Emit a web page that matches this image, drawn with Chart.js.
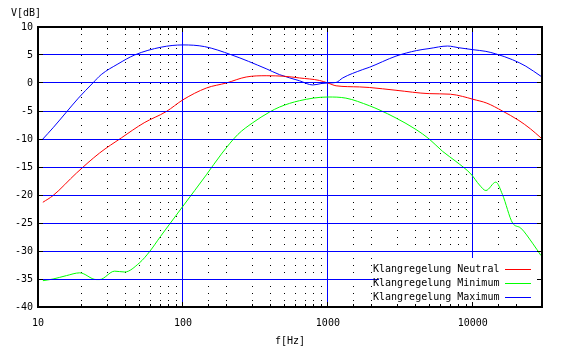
<!DOCTYPE html>
<html>
<head>
<meta charset="utf-8">
<script src="https://cdn.jsdelivr.net/npm/chart.js@4"></script>
<style>
  html, body { margin: 0; padding: 0; background: #fff; }
</style>
</head>
<body>
<canvas id="chart" width="565" height="350"></canvas>
<script>
// Klangregelung frequency response
const seriesNames = ["Klangregelung Neutral", "Klangregelung Minimum", "Klangregelung Maximum"];
const seriesColors = ["#ff0000", "#00ff00", "#0000ff"];

const neutralFreq = [10.8, 12.7, 18.4, 26.6, 37.6, 54, 76.7, 100, 145, 199, 273, 375, 500, 637, 873, 1000, 1140, 1650, 1930, 2950, 5000, 7000, 8500, 10000, 12500, 16000, 20800, 25000, 29500];
const neutralDb = [-21.3, -20.1, -16.1, -12.5, -9.8, -7.1, -5.1, -3.0, -0.9, 0, 1.07, 1.3, 1.2, 0.9, 0.46, 0, -0.5, -0.7, -0.8, -1.3, -1.9, -2.0, -2.4, -2.9, -3.6, -5.0, -6.7, -8.2, -9.8];

const minimumFreq = [10.8, 12.7, 15.7, 19.4, 25.2, 26.6, 33.8, 39.6, 50.2, 58.9, 70, 80.9, 100, 145, 184, 239, 303, 395, 463, 637, 1000, 1330, 1930, 2250, 2950, 4050, 5000, 6180, 7640, 9700, 11100, 12300, 14400, 16000, 18800, 21400, 25800, 29500];
const minimumDb = [-35.3, -35, -34.4, -33.9, -35.1, -35.1, -33.6, -33.75, -32.1, -30.1, -27.4, -25.2, -22, -16.4, -12.7, -9.2, -7.1, -5.2, -4.3, -3.16, -2.5, -2.7, -4.05, -4.77, -6.25, -8.3, -10, -12.2, -14, -16.25, -18.2, -19.2, -17.7, -19.9, -25, -25.9, -28.6, -30.8];

const maximumFreq = [10.8, 12.7, 15.7, 19, 23.9, 27.3, 35.6, 46.4, 70.8, 100, 141, 215, 375, 463, 637, 786, 900, 1000, 1140, 1265, 1740, 1930, 2950, 4100, 5000, 6700, 8000, 10000, 12300, 14400, 18800, 23200, 29500];
const maximumDb = [-10, -8.0, -5.2, -2.7, 0, 1.5, 3.4, 5.0, 6.4, 6.8, 6.5, 5.05, 2.55, 1.5, 0.4, -0.35, -0.1, 0, 0.1, 0.9, 2.4, 2.8, 4.8, 5.8, 6.15, 6.6, 6.3, 5.95, 5.65, 5.2, 4.15, 3.0, 1.2];

const xTickLabels = [10, 100, 1000, 10000];
const yTicks = [-40, -35, -30, -25, -20, -15, -10, -5, 0, 5, 10];

const FONT = "'DejaVu Sans Mono', monospace";
const GRID_BLUE = "#0000ff";

function toPoints(freqs, dbs) {
  return freqs.map((f, i) => ({ x: f, y: dbs[i] }));
}

function isDecade(v) {
  return xTickLabels.includes(v);
}

// same rounding chart.js uses for 1px lines
function crisp(p) {
  return Math.round(p - 0.5) + 0.5;
}

// gnuplot style frame: blue dB grid, inward ticks, thick border, key box, y label
const gnuplotFrame = {
  id: "gnuplotFrame",
  afterDatasetsDraw(chart) {
    const { ctx, chartArea: a, scales } = chart;
    const x = scales.x, y = scales.y;
    ctx.save();
    ctx.setLineDash([]);

    // dB grid lines
    ctx.strokeStyle = GRID_BLUE;
    ctx.lineWidth = 1;
    ctx.beginPath();
    y.ticks.forEach(t => {
      const py = crisp(y.getPixelForValue(t.value));
      ctx.moveTo(a.left, py);
      ctx.lineTo(a.right, py);
    });
    ctx.stroke();

    // key
    ctx.fillStyle = "#fff";
    ctx.fillRect(379, 258, a.right - 379, a.bottom - 258);
    ctx.font = "10px " + FONT;
    ctx.textBaseline = "middle";
    ctx.textAlign = "left";
    chart.data.datasets.forEach((ds, i) => {
      const ty = 269 + i * 14;
      ctx.fillStyle = "#000";
      ctx.fillText(ds.label, 373, ty);
      ctx.strokeStyle = seriesColors[i];
      ctx.lineWidth = 1;
      ctx.beginPath();
      ctx.moveTo(505, ty + 0.5);
      ctx.lineTo(531, ty + 0.5);
      ctx.stroke();
    });

    // inward ticks
    ctx.strokeStyle = "#000";
    ctx.lineWidth = 1;
    ctx.beginPath();
    x.ticks.forEach(t => {
      const px = crisp(x.getPixelForValue(t.value));
      const len = isDecade(t.value) ? 5 : 3;
      ctx.moveTo(px, a.bottom); ctx.lineTo(px, a.bottom - len);
      ctx.moveTo(px, a.top); ctx.lineTo(px, a.top + len);
    });
    y.ticks.forEach(t => {
      const py = crisp(y.getPixelForValue(t.value));
      ctx.moveTo(a.left, py); ctx.lineTo(a.left + 5, py);
      ctx.moveTo(a.right, py); ctx.lineTo(a.right - 5, py);
    });
    ctx.stroke();

    ctx.lineWidth = 2;
    ctx.strokeRect(a.left, a.top, a.right - a.left, a.bottom - a.top);

    ctx.fillStyle = "#000";
    ctx.textAlign = "left";
    ctx.fillText("V[dB]", 11, 13);
    ctx.restore();
  }
};

const ctx = document.getElementById("chart");
const myChart = new Chart(ctx, {
  type: "line",
  data: {
    datasets: [
      { label: seriesNames[0], data: toPoints(neutralFreq, neutralDb), borderColor: seriesColors[0] },
      { label: seriesNames[1], data: toPoints(minimumFreq, minimumDb), borderColor: seriesColors[1] },
      { label: seriesNames[2], data: toPoints(maximumFreq, maximumDb), borderColor: seriesColors[2] }
    ]
  },
  options: {
    responsive: false,
    animation: false,
    devicePixelRatio: 1,
    layout: { padding: { top: 27, right: 23, left: 0, bottom: 0 } },
    elements: {
      line: { borderWidth: 1, fill: false, cubicInterpolationMode: "monotone" },
      point: { radius: 0, hoverRadius: 0 }
    },
    scales: {
      x: {
        type: "logarithmic",
        min: 10,
        max: 30000,
        afterFit: s => { s.height = 43; },
        border: {
          display: false,
          dash: c => (c.tick && isDecade(c.tick.value)) ? [] : [1, 6]
        },
        grid: {
          drawTicks: false,
          lineWidth: 1,
          color: c => (c.tick && isDecade(c.tick.value)) ? GRID_BLUE : "#000"
        },
        ticks: {
          autoSkip: false,
          maxRotation: 0,
          padding: 10,
          color: "#000",
          font: { family: FONT, size: 10 },
          callback: v => isDecade(v) ? String(v) : ""
        },
        title: {
          display: true,
          text: "f[Hz]",
          color: "#000",
          font: { family: FONT, size: 10 },
          padding: { top: 0, bottom: 3 }
        }
      },
      y: {
        type: "linear",
        min: -40,
        max: 10,
        afterFit: s => { s.width = 38; },
        afterBuildTicks: s => { s.ticks = yTicks.map(v => ({ value: v })); },
        border: { display: false, dash: [] },
        grid: {
          drawTicks: false,
          lineWidth: 1,
          color: GRID_BLUE
        },
        ticks: {
          autoSkip: false,
          padding: 5,
          color: "#000",
          font: { family: FONT, size: 10 }
        }
      }
    },
    plugins: {
      legend: { display: false },
      tooltip: { enabled: false }
    }
  },
  plugins: [gnuplotFrame]
});
</script>
</body>
</html>
